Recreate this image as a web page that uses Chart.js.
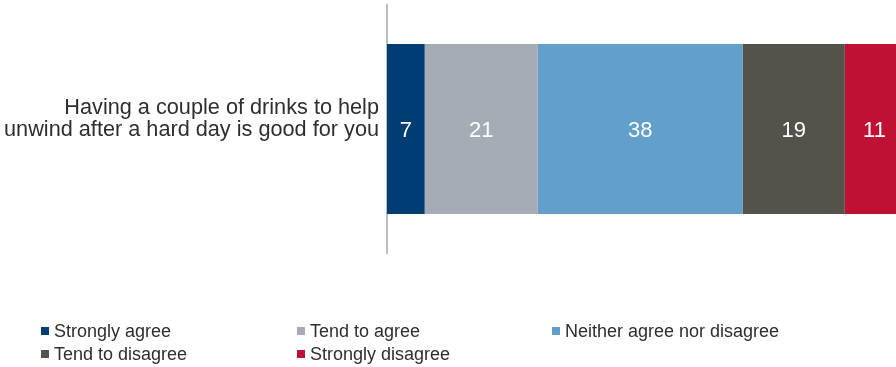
<!DOCTYPE html>
<html>
<head>
<meta charset="utf-8">
<script src="https://cdn.jsdelivr.net/npm/chart.js@4"></script>
<style>
  html, body { margin: 0; padding: 0; background: #fff; }
  #wrap { position: relative; width: 896px; height: 367px; overflow: hidden; }
  #chart { display: block; }
  #legend {
    position: absolute; left: 41px; top: 321px;
    display: grid; grid-template-columns: 256px 255px 256px; row-gap: 3px;
    font-family: "Liberation Sans", Arial, sans-serif; font-size: 18px; color: #2e2e2e;
  }
  #legend .item { display: flex; align-items: center; height: 20px; white-space: nowrap; }
  #legend .box { width: 8px; height: 8px; margin-right: 5px; flex: none; }
</style>
</head>
<body>
<div id="wrap">
  <canvas id="chart" width="896" height="367"></canvas>
  <div id="legend"></div>
</div>
<script>
const categories = [['Having a couple of drinks to help', 'unwind after a hard day is good for you']];
const seriesNames = ['Strongly agree', 'Tend to agree', 'Neither agree nor disagree', 'Tend to disagree', 'Strongly disagree'];
const seriesValues = [[7], [21], [38], [19], [11]];
const seriesColors = ['#003d73', '#a5acb5', '#629fcb', '#54534b', '#be1133'];

const FONT = "'Liberation Sans', Arial, sans-serif";

// white numbers in the middle of each segment
const segmentLabels = {
  id: 'segmentLabels',
  afterDatasetsDraw(chart) {
    const ctx = chart.ctx;
    ctx.save();
    ctx.fillStyle = '#ffffff';
    ctx.font = '22px ' + FONT;
    ctx.textAlign = 'center';
    ctx.textBaseline = 'middle';
    chart.data.datasets.forEach((ds, i) => {
      chart.getDatasetMeta(i).data.forEach((bar, j) => {
        const x = (bar.x + bar.base) / 2;
        ctx.fillText(String(ds.data[j]), x, bar.y + 2);
      });
    });
    ctx.restore();
  }
};

new Chart(document.getElementById('chart'), {
  type: 'bar',
  data: {
    labels: categories,
    datasets: seriesNames.map((name, i) => ({
      label: name,
      data: seriesValues[i],
      backgroundColor: seriesColors[i],
      borderWidth: 0,
      categoryPercentage: 1,
      barPercentage: 0.685
    }))
  },
  options: {
    indexAxis: 'y',
    responsive: false,
    animation: false,
    layout: { padding: { top: 5, bottom: 114, left: 0, right: 0 } },
    plugins: {
      legend: { display: false },
      tooltip: { enabled: false }
    },
    scales: {
      x: {
        stacked: true,
        display: false,
        min: 0,
        max: 94.5
      },
      y: {
        stacked: true,
        grid: { display: false, drawTicks: false },
        border: { display: true, color: '#bdbdbd', width: 2 },
        ticks: {
          color: '#2e2e2e',
          padding: 8,
          labelOffset: -10,
          font: { family: FONT, size: 21.7, lineHeight: '22px' }
        },
        afterFit(scale) {
          scale.width = 387;
          scale.paddingTop = 0;
          scale.paddingBottom = 0;
        }
      }
    }
  },
  plugins: [segmentLabels]
});

// legend grid, built from the series arrays
const legendEl = document.getElementById('legend');
seriesNames.forEach((name, i) => {
  const item = document.createElement('div');
  item.className = 'item';
  const box = document.createElement('span');
  box.className = 'box';
  box.style.background = seriesColors[i];
  const txt = document.createElement('span');
  txt.textContent = name;
  item.appendChild(box);
  item.appendChild(txt);
  legendEl.appendChild(item);
});
</script>
</body>
</html>
